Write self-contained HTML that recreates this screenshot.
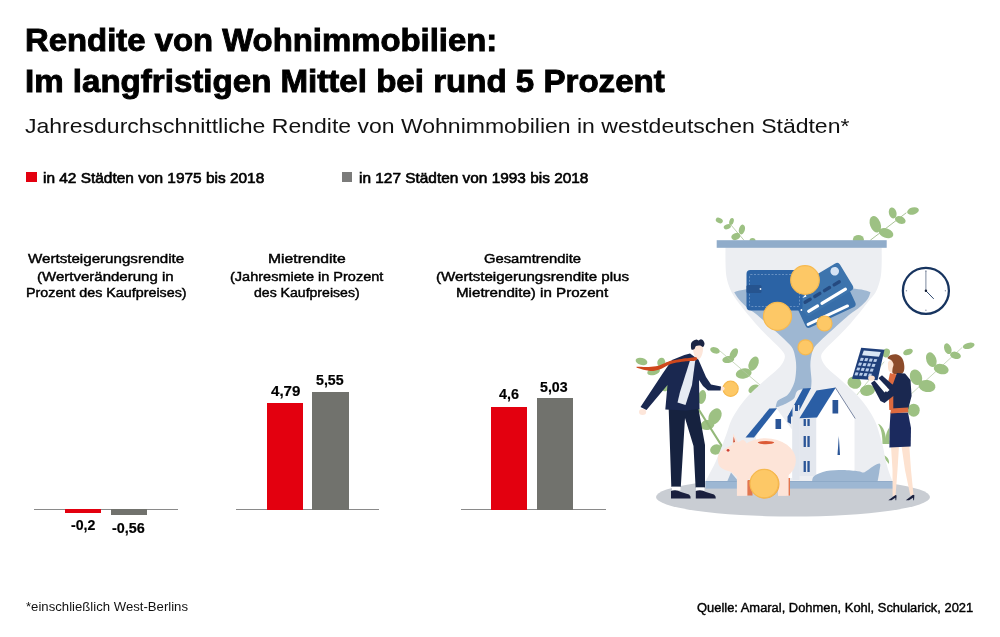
<!DOCTYPE html>
<html lang="de"><head><meta charset="utf-8"><title>Rendite von Wohnimmobilien</title>
<style>
html,body{margin:0;padding:0;background:#fff;}
body{width:1000px;height:637px;overflow:hidden;font-family:"Liberation Sans",sans-serif;}
#wrap{position:relative;width:1000px;height:637px;overflow:hidden;background:#fff;}
.t{position:absolute;white-space:pre;line-height:1;transform-origin:0 50%;display:block;}
.b{position:absolute;}
.red{background:#e3000f;}
.gry{background:#71726d;}
.ax{position:absolute;height:1px;background:#8a8a8a;}
#illu{position:absolute;left:620px;top:190px;}

</style></head>
<body>
<div id="wrap">
<div class="b red" style="left:26.4px;top:172.4px;width:10.4px;height:10px"></div>
<div class="b gry" style="left:341.6px;top:172.4px;width:10.2px;height:10px;background:#7b7b7a"></div>
<div class="ax" style="left:34px;top:509px;width:144px"></div>
<div class="ax" style="left:236px;top:509px;width:143px"></div>
<div class="ax" style="left:461px;top:509px;width:145px"></div>
<div class="b red" style="left:65px;top:509px;width:36.4px;height:4.2px"></div>
<div class="b gry" style="left:111px;top:509px;width:36px;height:6.4px"></div>
<div class="b red" style="left:267px;top:402.7px;width:36px;height:107px"></div>
<div class="b gry" style="left:312.4px;top:392.2px;width:36.2px;height:117.5px"></div>
<div class="b red" style="left:491.4px;top:406.5px;width:35.8px;height:103.2px"></div>
<div class="b gry" style="left:537.2px;top:398.4px;width:35.7px;height:111.3px"></div>

<svg id="illu" width="380" height="330" viewBox="620 190 380 330">
<ellipse cx="793" cy="497" rx="137" ry="19.5" fill="#c9cdd3"/>
<line x1="731" y1="225" x2="743.8" y2="240" stroke="#9dba88" stroke-width="0.7" stroke-linecap="round"/>
<ellipse cx="719.3" cy="220.5" rx="3.7" ry="2.5" transform="rotate(25 719.3 220.5)" fill="#9dc183"/>
<ellipse cx="731.5" cy="221.5" rx="2.2" ry="3.6" transform="rotate(15 731.5 221.5)" fill="#9dc183"/>
<ellipse cx="727.3" cy="226.8" rx="3.7" ry="2.4" transform="rotate(-20 727.3 226.8)" fill="#9dc183"/>
<ellipse cx="741.9" cy="229.5" rx="3" ry="5" transform="rotate(15 741.9 229.5)" fill="#9dc183"/>
<ellipse cx="735.8" cy="236.4" rx="4.6" ry="3.3" transform="rotate(-25 735.8 236.4)" fill="#9dc183"/>
<ellipse cx="752.5" cy="240.5" rx="3" ry="2.6" transform="rotate(0 752.5 240.5)" fill="#9dc183"/>
<line x1="870.6" y1="240" x2="906" y2="213" stroke="#94b47c" stroke-width="0.8" stroke-linecap="round"/>
<ellipse cx="875.3" cy="224.2" rx="5.3" ry="8.5" transform="rotate(-20 875.3 224.2)" fill="#9dc183"/>
<ellipse cx="886.1" cy="233.1" rx="7.5" ry="4.7" transform="rotate(20 886.1 233.1)" fill="#9dc183"/>
<ellipse cx="892.7" cy="212.9" rx="3.8" ry="5.6" transform="rotate(-15 892.7 212.9)" fill="#9dc183"/>
<ellipse cx="900.3" cy="220.0" rx="5.5" ry="3.6" transform="rotate(20 900.3 220.0)" fill="#9dc183"/>
<ellipse cx="913.0" cy="211.0" rx="6" ry="3.6" transform="rotate(-15 913.0 211.0)" fill="#9dc183"/>
<ellipse cx="858.4" cy="239.5" rx="5.5" ry="4.5" transform="rotate(0 858.4 239.5)" fill="#9dc183"/>
<ellipse cx="641.5" cy="361.4" rx="6" ry="3.5" transform="rotate(15 641.5 361.4)" fill="#9dc183"/>
<ellipse cx="661.3" cy="362.5" rx="4" ry="4.8" transform="rotate(10 661.3 362.5)" fill="#9dc183"/>
<ellipse cx="653.6" cy="371.5" rx="6.5" ry="3.5" transform="rotate(-15 653.6 371.5)" fill="#9dc183"/>
<ellipse cx="665.7" cy="385.0" rx="4.5" ry="6.5" transform="rotate(20 665.7 385.0)" fill="#9dc183"/>
<ellipse cx="715.0" cy="350.4" rx="5" ry="3" transform="rotate(20 715.0 350.4)" fill="#9dc183"/>
<ellipse cx="733.8" cy="353.7" rx="3.5" ry="6" transform="rotate(30 733.8 353.7)" fill="#9dc183"/>
<ellipse cx="728.3" cy="359.5" rx="6" ry="3.5" transform="rotate(-10 728.3 359.5)" fill="#9dc183"/>
<ellipse cx="753.6" cy="363.6" rx="4.6" ry="7.5" transform="rotate(25 753.6 363.6)" fill="#9dc183"/>
<ellipse cx="743.7" cy="373.5" rx="8" ry="5" transform="rotate(-10 743.7 373.5)" fill="#9dc183"/>
<ellipse cx="754.0" cy="389.0" rx="6" ry="4" transform="rotate(-30 754.0 389.0)" fill="#9dc183"/>
<ellipse cx="715.0" cy="416.3" rx="6" ry="8.5" transform="rotate(30 715.0 416.3)" fill="#9dc183"/>
<ellipse cx="707.4" cy="425.0" rx="7" ry="5" transform="rotate(-10 707.4 425.0)" fill="#9dc183"/>
<ellipse cx="716.0" cy="449.5" rx="6" ry="5" transform="rotate(-20 716.0 449.5)" fill="#9dc183"/>
<ellipse cx="702.0" cy="397.0" rx="4" ry="7" transform="rotate(10 702.0 397.0)" fill="#9dc183"/>
<line x1="720" y1="351" x2="760" y2="385" stroke="#b3c9a4" stroke-width="0.7" stroke-linecap="round"/>
<line x1="697.5" y1="407.6" x2="723.3" y2="448.4" stroke="#93b879" stroke-width="2.0" stroke-linecap="round"/>
<line x1="911.5" y1="393.7" x2="962" y2="347.6" stroke="#b3c9a4" stroke-width="0.7" stroke-linecap="round"/>
<line x1="856" y1="396" x2="884" y2="362" stroke="#b3c9a4" stroke-width="0.7" stroke-linecap="round"/>
<ellipse cx="968.7" cy="345.8" rx="6" ry="3" transform="rotate(-15 968.7 345.8)" fill="#9dc183"/>
<ellipse cx="947.8" cy="348.7" rx="3.5" ry="5.6" transform="rotate(-20 947.8 348.7)" fill="#9dc183"/>
<ellipse cx="955.5" cy="355.3" rx="5.5" ry="3.5" transform="rotate(15 955.5 355.3)" fill="#9dc183"/>
<ellipse cx="931.3" cy="359.7" rx="5" ry="7.6" transform="rotate(-20 931.3 359.7)" fill="#9dc183"/>
<ellipse cx="941.2" cy="369.1" rx="7.6" ry="5" transform="rotate(15 941.2 369.1)" fill="#9dc183"/>
<ellipse cx="916.0" cy="377.3" rx="6" ry="8" transform="rotate(-20 916.0 377.3)" fill="#9dc183"/>
<ellipse cx="927.0" cy="386.0" rx="8.5" ry="6" transform="rotate(10 927.0 386.0)" fill="#9dc183"/>
<ellipse cx="913.7" cy="410.2" rx="6" ry="6.5" transform="rotate(0 913.7 410.2)" fill="#9dc183"/>
<ellipse cx="908.0" cy="352.0" rx="5" ry="3" transform="rotate(-20 908.0 352.0)" fill="#9dc183"/>
<ellipse cx="886.3" cy="353.0" rx="3.5" ry="4.5" transform="rotate(20 886.3 353.0)" fill="#9dc183"/>
<ellipse cx="854.4" cy="382.7" rx="7" ry="6" transform="rotate(20 854.4 382.7)" fill="#9dc183"/>
<ellipse cx="867.6" cy="390.4" rx="7.5" ry="5.5" transform="rotate(-10 867.6 390.4)" fill="#9dc183"/>
<path d="M878,423.8 C884,426 886,434 886.5,444 L882.5,444 C882.5,436 881.5,429 878,423.8Z" fill="#9dc183"/>
<path d="M889.3,427.5 C886,432 885,438 886,444 L889.5,444Z" fill="#9dc183"/>
<path d="M882.3,455 C887,455.5 889.5,459.5 889,464 C886.5,461 884,458 882.3,455Z" fill="#9dc183"/>
<path d="M725.5,247.0C725.5,249.5 725.4,257.3 725.5,262.0C725.6,266.7 725.7,271.2 726.2,275.0C726.7,278.8 727.6,282.0 728.6,285.0C729.6,288.0 730.7,290.5 732.0,293.0C733.3,295.5 734.8,297.6 736.5,300.0C738.2,302.4 740.2,304.8 742.5,307.7C744.8,310.6 747.5,313.9 750.5,317.5C753.5,321.1 756.8,325.1 760.5,329.0C764.2,332.9 769.0,337.5 772.5,341.0C776.0,344.5 779.4,347.4 781.5,350.0C783.6,352.6 785.0,354.2 784.9,356.8C784.8,359.4 783.0,362.6 781.1,365.3C779.2,368.0 776.4,370.3 773.6,372.8C770.8,375.3 768.1,377.3 764.5,380.5C760.9,383.7 755.6,388.4 752.0,392.0C748.4,395.6 745.7,398.7 743.0,402.0C740.3,405.3 738.0,408.8 736.0,412.0C734.0,415.2 732.4,417.8 731.0,421.0C729.6,424.2 729.0,426.8 727.5,431.0C726.0,435.2 723.9,441.0 722.0,446.0C720.1,451.0 717.8,456.8 716.0,461.0C714.2,465.2 712.8,467.6 711.0,471.0C709.2,474.4 706.4,479.8 705.5,481.5 L892.5,481.5 C891.9,479.8 889.7,474.4 888.6,471.0C887.5,467.6 886.8,465.2 885.8,461.0C884.8,456.8 884.0,451.0 882.8,446.0C881.6,441.0 879.8,435.2 878.5,431.0C877.2,426.8 876.4,424.2 875.0,421.0C873.6,417.8 872.0,415.2 870.0,412.0C868.0,408.8 865.7,405.3 863.0,402.0C860.3,398.7 857.6,395.6 854.0,392.0C850.4,388.4 845.1,383.7 841.5,380.5C837.9,377.3 835.2,375.3 832.4,372.8C829.6,370.3 826.8,368.0 824.9,365.3C823.0,362.6 821.2,359.4 821.1,356.8C821.0,354.2 822.4,352.6 824.5,350.0C826.6,347.4 830.0,344.5 833.5,341.0C837.0,337.5 841.8,332.9 845.5,329.0C849.2,325.1 852.5,321.1 855.5,317.5C858.5,313.9 861.2,310.6 863.5,307.7C865.8,304.8 867.5,302.4 869.5,300.0C871.5,297.6 873.7,295.5 875.2,293.0C876.7,290.5 877.6,288.0 878.6,285.0C879.6,282.0 880.5,278.8 881.0,275.0C881.5,271.2 881.6,266.7 881.7,262.0C881.8,257.3 881.7,249.5 881.7,247.0 Z" fill="#eceef2"/>
<path d="M734.2,292.2C735.0,293.4 736.7,296.6 738.9,299.2C741.1,301.8 745.0,305.6 747.4,307.7C749.8,309.8 750.5,309.8 753.0,311.8C755.5,313.8 758.8,316.2 762.5,319.5C766.2,322.8 771.6,327.8 775.5,331.3C779.4,334.9 783.0,338.0 785.8,340.8C788.6,343.6 790.9,345.5 792.5,348.3C794.1,351.1 794.7,354.6 795.3,357.7C795.9,360.8 796.2,363.5 796.2,367.2C796.2,370.9 795.7,376.5 795.0,380.0C794.3,383.5 793.3,385.4 792.0,388.0C790.7,390.6 789.3,393.4 787.0,395.5C784.7,397.6 779.9,398.4 778.0,400.5C776.1,402.6 775.9,406.6 775.5,407.8 C777.2,407.1 782.6,405.2 785.7,403.7C788.8,402.2 791.9,400.8 793.9,398.6C795.9,396.4 795.1,392.1 798.0,390.4C800.9,388.7 808.8,388.7 811.0,388.4 C811.1,387.0 811.6,383.6 811.5,380.0C811.4,376.4 810.5,370.7 810.4,367.0C810.3,363.3 810.4,360.8 811.0,357.7C811.6,354.6 812.2,351.1 813.8,348.3C815.4,345.5 817.7,343.6 820.5,340.8C823.3,338.0 826.9,334.9 830.8,331.3C834.7,327.8 840.0,322.8 843.8,319.5C847.5,316.2 850.8,313.8 853.3,311.8C855.8,309.8 856.6,309.8 859.0,307.7C861.4,305.6 865.6,301.8 867.5,299.2C869.4,296.6 870.0,293.4 870.5,292.2 C862,288 840,287 803,287 C770,287 745,288 734.2,292.2Z" fill="#9eb7d2"/>
<g transform="translate(825.2 303) rotate(-25)"><rect x="-27.5" y="-15.8" width="55" height="31.6" rx="3.6" fill="#376ea9"/><rect x="-26" y="10.6" width="14" height="3" rx="1.5" fill="#fff"/><rect x="-9.5" y="10.6" width="30" height="3" rx="1.5" fill="#fff"/></g>
<g transform="translate(822.8 289.3) rotate(-31)"><rect x="-27.5" y="-15.8" width="55" height="31.6" rx="3.6" fill="#3d74ad"/><circle cx="19.5" cy="-9.3" r="4.3" fill="#d5e3f4"/><rect x="-23.5" y="0.3" width="9.2" height="3.4" rx="1.6" fill="#254a80"/><rect x="-12.2" y="0.3" width="9.2" height="3.4" rx="1.6" fill="#254a80"/><rect x="-0.8999999999999986" y="0.3" width="9.2" height="3.4" rx="1.6" fill="#254a80"/><rect x="10.400000000000006" y="0.3" width="9.2" height="3.4" rx="1.6" fill="#254a80"/><rect x="-25" y="10" width="13.5" height="3.1" rx="1.5" fill="#fff"/><rect x="-9.5" y="10" width="30.5" height="3.1" rx="1.5" fill="#fff"/></g>
<rect x="746.5" y="270" width="56" height="40.5" rx="4" fill="#2b63a5"/>
<rect x="749.5" y="274.5" width="50" height="32" rx="1" fill="none" stroke="#7fa3cf" stroke-width="0.7" stroke-dasharray="2 1.5"/>
<rect x="746.5" y="285" width="15" height="8" rx="1.5" fill="#26548f"/>
<circle cx="760.5" cy="289" r="0.9" fill="#e8eef6"/>
<circle cx="801.4" cy="310" r="0.9" fill="#fff"/>
<path d="M802.4,298 L805.5,294.5 L806.5,296.5Z" fill="#fff"/>
<circle cx="805" cy="280" r="14.3" fill="#fdc866" stroke="#f6b94f" stroke-width="1.2"/>
<circle cx="777.5" cy="316.3" r="14" fill="#fdc866" stroke="#f6b94f" stroke-width="1.2"/>
<circle cx="824.5" cy="323.5" r="7.5" fill="#fdc866" stroke="#f6b94f" stroke-width="1.2"/>
<circle cx="805.5" cy="347.3" r="7.5" fill="#fdc866" stroke="#f6b94f" stroke-width="1.2"/>
<circle cx="730.6" cy="388.8" r="7.6" fill="#fdc866" stroke="#f6b94f" stroke-width="1.2"/>
<path d="M769.4,408.8L776.5,408.4L792.0,429.5L792.0,478.0L756.0,478.0L756.0,437.0Z" fill="#ffffff"/>
<path d="M745.5,437.5L769.4,408.6L777.0,408.2L754.0,437.5Z" fill="#2a5ea5"/>
<rect x="775.5" y="419" width="5.6" height="10" fill="#2a5597"/>
<path d="M787.5,417.0L803.0,388.6L811.0,388.0L796.5,416.0Z" fill="#2a5ea5"/>
<path d="M787.5,417.0L791.0,411.0L791.0,424.0L787.5,422.0Z" fill="#2a5597"/>
<rect x="792.5" y="405" width="6.9" height="75" fill="#e3e7ee"/>
<rect x="795" y="404" width="3" height="7" fill="#2a5597"/>
<path d="M799.4,418.0L816.3,417.5L816.3,476.0L799.4,476.0Z" fill="#e3e7ee"/>
<path d="M816.3,417.5L835.5,388.0L854.5,418.0L854.5,476.0L816.3,476.0Z" fill="#ffffff"/>
<path d="M799.4,418.3L816.5,390.4L835.8,387.6L817.0,417.6Z" fill="#2a5ea5"/>
<line x1="835.6" y1="388" x2="855" y2="418.2" stroke="#2b3f6b" stroke-width="0.6" stroke-linecap="round"/>
<rect x="832.5" y="400" width="5.7" height="13.5" fill="#2a5597"/>
<path d="M837.5,455.0L838.8,436.0L840.0,455.0Z" fill="#2a5597"/>
<rect x="803.6" y="419" width="2.3" height="7" fill="#2a5597"/><rect x="807.4" y="419" width="2.3" height="7" fill="#2a5597"/>
<rect x="803.6" y="436" width="2.3" height="11" fill="#2a5597"/><rect x="807.4" y="436" width="2.3" height="11" fill="#2a5597"/>
<rect x="803.6" y="461" width="2.3" height="11" fill="#2a5597"/><rect x="807.4" y="461" width="2.3" height="11" fill="#2a5597"/>
<path d="M812.0,482.0C812.4,481.0 811.9,477.8 814.3,476.0C816.7,474.2 821.7,472.0 826.5,471.0C831.3,470.0 837.6,470.0 842.9,470.0C848.1,470.0 854.6,470.8 858.0,471.2C861.4,471.6 861.8,472.7 863.5,472.5C865.2,472.3 866.2,471.1 868.0,470.0C869.8,468.9 872.0,466.8 874.0,465.8C876.0,464.8 879.1,462.8 880.0,463.8C880.9,464.8 879.7,469.0 879.3,472.0C878.9,475.0 877.8,480.3 877.5,482.0Z" fill="#9eb7d2"/>
<path d="M727.0,482.0L731.0,472.5L739.0,482.0Z" fill="#9eb7d2"/>
<rect x="716.7" y="240.2" width="170" height="7.6" fill="#90acca"/>
<rect x="705.5" y="481.2" width="190.5" height="7.4" fill="#9db7d3"/>
<rect x="705.5" y="481" width="190.5" height="0.8" fill="#8ba7c6"/>
<rect x="746.5" y="480" width="6" height="15.5" fill="#e2764f"/><rect x="786" y="478" width="4" height="17.5" fill="#e2764f"/>
<path d="M736.9,470 L747.4,470 L747.4,495.9 L736.9,495.9Z" fill="#fde4d8"/><path d="M778,470 L788.6,470 L788.6,495.9 L778,495.9Z" fill="#fde4d8"/>
<ellipse cx="765.5" cy="460.6" rx="30.4" ry="22.4" fill="#fde4d8"/>
<path d="M745.0,441.0C742.5,438.2 739.7,442.1 737.0,443.0C734.3,443.9 731.5,445.2 729.0,446.5C726.5,447.8 723.8,449.1 722.0,450.5C720.2,451.9 719.0,453.2 718.3,455.0C717.6,456.8 717.8,459.2 718.0,461.0C718.2,462.8 718.5,464.6 719.5,466.0C720.5,467.4 722.1,468.5 724.0,469.5C725.9,470.5 728.8,470.8 731.0,472.0C733.2,473.2 734.2,475.7 737.0,477.0C739.8,478.3 745.5,482.8 748.0,480.0C750.5,477.2 752.5,466.5 752.0,460.0C751.5,453.5 747.5,443.8 745.0,441.0Z" fill="#fde4d8"/>
<path d="M733.3,433.5L738.5,443.5L732.0,446.5Z" fill="#fde4d8"/>
<path d="M733.7,436.5L735.0,442.0L733.2,442.5Z" fill="#c9472d"/>
<ellipse cx="766" cy="442.6" rx="8.2" ry="1.6" fill="#dc5a36"/>
<circle cx="728.1" cy="450.3" r="1.4" fill="#cf3f33" />
<circle cx="764.9" cy="484" r="14.6" fill="#eeaa45"/>
<circle cx="764.2" cy="483.6" r="14.2" fill="#fdc866" stroke="#f6b94f" stroke-width="1.2"/>
<path d="M668.7,409.0L698.5,409.0L705.0,445.0L705.0,487.5L695.6,487.5L693.5,446.0L685.0,418.0L680.8,486.8L671.3,486.8Z" fill="#16223f"/>
<rect x="672" y="486.8" width="8.5" height="3.6" fill="#fff"/><rect x="696" y="487.5" width="8.5" height="3.2" fill="#fff"/>
<path d="M671,498.4 L671,491 Q676,489 681,492 L689,494.5 Q691,496 690.6,498.4Z" fill="#1a1f3d"/>
<path d="M695.8,498.4 L695.8,491 Q701,489 706,492 L714,494.5 Q716,496 715.8,498.4Z" fill="#1a1f3d"/>
<ellipse cx="642.6" cy="412" rx="3.6" ry="3" fill="#fde6da"/>
<ellipse cx="722" cy="388.6" rx="2.6" ry="2.2" fill="#fde6da"/>
<path d="M693.0,347.0C692.7,348.8 693.3,351.8 694.0,354.0C694.7,356.2 695.8,359.5 697.0,360.0C698.2,360.5 700.0,358.7 701.0,357.0C702.0,355.3 702.8,352.2 703.0,350.0C703.2,347.8 703.2,345.2 702.0,344.0C700.8,342.8 697.5,342.5 696.0,343.0C694.5,343.5 693.3,345.2 693.0,347.0Z" fill="#fde6da"/>
<path d="M691.5,349.5C690.9,348.7 690.8,345.4 691.0,344.0C691.2,342.6 692.1,341.8 693.0,341.0C693.9,340.2 695.6,339.6 696.5,339.5C697.4,339.4 697.8,340.5 698.5,340.5C699.2,340.5 700.2,339.2 701.0,339.3C701.8,339.4 702.9,340.2 703.5,341.0C704.1,341.8 704.6,343.0 704.5,344.0C704.4,345.0 703.8,346.8 703.0,347.0C702.2,347.2 701.2,345.7 700.0,345.5C698.8,345.3 696.9,345.4 696.0,346.0C695.1,346.6 695.2,348.4 694.5,349.0C693.8,349.6 692.1,350.3 691.5,349.5Z" fill="#1b2544"/>
<path d="M684.4,355.0L690.0,353.5L698.5,359.7L706.0,377.0L711.0,384.5L721.0,386.5L720.5,390.5L708.0,390.5L703.0,386.0L699.0,380.0L699.5,409.0L686.0,410.5L665.3,409.5L667.5,385.0L646.5,410.0L640.5,407.0L663.0,373.0L672.0,360.0Z" fill="#1a2850"/>
<path d="M690.0,360.5L695.3,360.0L692.0,385.0L685.5,405.0L677.5,402.5L680.0,392.0Z" fill="#e6ebf4"/>
<path d="M696.5,357.4C695.4,357.0 691.5,357.8 689.0,358.0C686.5,358.2 684.4,358.5 681.5,358.9C678.6,359.3 674.4,359.9 671.6,360.6C668.8,361.3 667.2,362.2 664.6,363.2C662.0,364.1 659.1,365.7 656.0,366.3C652.9,366.9 649.5,366.9 646.2,367.0C642.9,367.1 637.2,366.6 636.3,366.9C635.4,367.2 639.4,368.4 641.0,369.0C642.6,369.6 644.2,370.0 646.2,370.3C648.2,370.6 650.9,371.2 653.3,371.0C655.6,370.8 657.9,370.2 660.3,369.3C662.6,368.4 665.0,366.6 667.4,365.5C669.8,364.4 671.7,363.7 674.5,363.0C677.3,362.3 680.9,361.9 684.4,361.5C687.9,361.1 693.5,361.3 695.5,360.6C697.5,359.9 697.6,357.8 696.5,357.4Z" fill="#cf471c"/>
<path d="M891.0,446.0L899.0,446.0L897.5,470.0L895.5,496.0L892.6,496.0L892.5,470.0Z" fill="#fde2d0"/>
<path d="M901.5,446.0L909.3,446.0L911.0,470.0L913.5,495.0L910.3,495.5L905.0,470.0Z" fill="#fde2d0"/>
<path d="M888.3,500.3 L895.5,495 L896.6,495.5 L896.2,500.3 L895.5,500.3 L895.3,497.8 L891.5,500.3Z" fill="#1a1f3d"/>
<path d="M905.8,500.3 L913,494.8 L914.4,495.3 L914,500.3 L913.3,500.3 L913,497.8 L909,500.3Z" fill="#1a1f3d"/>
<path d="M890.5,412.5L908.0,412.5L911.0,428.0L910.7,446.5L889.4,447.5L889.6,428.0Z" fill="#1b2a5e"/>
<path d="M889.0,361.0C887.5,362.0 888.0,364.3 888.0,366.0C888.0,367.7 888.2,369.8 889.0,371.0C889.8,372.2 891.7,372.8 893.0,373.0C894.3,373.2 896.3,374.2 897.0,372.0C897.7,369.8 898.3,361.8 897.0,360.0C895.7,358.2 890.5,360.0 889.0,361.0Z" fill="#fde2d0"/>
<path d="M887.5,358.0C887.5,357.2 889.4,355.6 891.0,355.0C892.6,354.4 895.2,354.0 897.0,354.5C898.8,355.0 900.8,356.2 902.0,358.0C903.2,359.8 904.0,362.7 904.2,365.0C904.5,367.3 904.4,370.4 903.5,372.0C902.6,373.6 900.8,374.2 899.0,374.5C897.2,374.8 894.1,374.4 893.0,373.5C891.9,372.6 892.4,370.6 892.5,369.0C892.6,367.4 893.8,365.5 893.5,364.0C893.2,362.5 892.0,361.0 891.0,360.0C890.0,359.0 887.5,358.8 887.5,358.0Z" fill="#8c4b2a"/>
<path d="M893.0,373.0L899.0,377.0L894.0,392.0L894.5,410.0L889.3,410.0L888.8,398.0L890.0,388.0Z" fill="#dd6a3f"/>
<path d="M890.0,373.0L897.0,375.0L894.0,388.0L889.5,400.0L886.0,392.0Z" fill="#dd6a3f"/>
<path d="M897.0,373.0L905.0,373.5L910.5,380.0L911.6,396.0L908.0,410.0L893.3,410.0L893.3,396.0L884.5,403.0L880.5,401.0L871.0,383.0L874.5,380.5L884.5,392.5L893.0,384.0Z" fill="#1a2850"/>
<path d="M890.8,408.6L908.0,407.6L908.3,412.2L890.6,413.6Z" fill="#dd6a3f"/>
<path d="M878.3,378.3L882.0,375.3L893.5,385.5L889.5,390.0Z" fill="#1a2850"/>
<path d="M876.3,380.6L878.3,378.3L889.5,390.0L887.0,392.3Z" fill="#fff"/>
<path d="M861.2,347.7L884.5,349.8L877.5,380.2L852.0,378.8Z" fill="#1f3f7a"/>
<g transform="translate(861.2 347.7) rotate(5) skewX(-15)"><rect x="3.5" y="2.5" width="17" height="5" fill="#d9e6f5"/><rect x="3.2" y="10" width="3" height="3" fill="#b9cdea"/><rect x="7.7" y="10" width="3" height="3" fill="#b9cdea"/><rect x="12.2" y="10" width="3" height="3" fill="#b9cdea"/><rect x="16.7" y="10" width="3" height="3" fill="#b9cdea"/><rect x="3.2" y="15" width="3" height="3" fill="#b9cdea"/><rect x="7.7" y="15" width="3" height="3" fill="#b9cdea"/><rect x="12.2" y="15" width="3" height="3" fill="#b9cdea"/><rect x="16.7" y="15" width="3" height="3" fill="#b9cdea"/><rect x="3.2" y="20" width="3" height="3" fill="#b9cdea"/><rect x="7.7" y="20" width="3" height="3" fill="#b9cdea"/><rect x="12.2" y="20" width="3" height="3" fill="#b9cdea"/><rect x="16.7" y="20" width="3" height="3" fill="#b9cdea"/><rect x="3.2" y="25" width="3" height="3" fill="#b9cdea"/><rect x="7.7" y="25" width="3" height="3" fill="#b9cdea"/><rect x="12.2" y="25" width="3" height="3" fill="#b9cdea"/><rect x="16.7" y="25" width="3" height="3" fill="#b9cdea"/></g>
<ellipse cx="871.5" cy="378" rx="3.4" ry="2.6" fill="#fde2d0"/>
<circle cx="925.9" cy="290.8" r="23" fill="#fff" stroke="#17345f" stroke-width="2.3"/>
<line x1="925.9" y1="290.8" x2="925.9" y2="271" stroke="#6c7a93" stroke-width="0.9" stroke-linecap="round"/>
<line x1="925.9" y1="290.8" x2="933.5" y2="298.6" stroke="#17345f" stroke-width="0.9" stroke-linecap="round"/>
<circle cx="925.9" cy="290.8" r="1.2" fill="#111c33" />
<circle cx="945.4" cy="290.8" r="0.7" fill="#8a93a6" />
<circle cx="925.9" cy="310.3" r="0.7" fill="#8a93a6" />
<circle cx="906.4" cy="290.8" r="0.7" fill="#8a93a6" />
<circle cx="925.9" cy="271.3" r="0.7" fill="#8a93a6" />
</svg>

<span class="t" style="left:25.2px;top:24.8px;font-size:31px;font-weight:700;color:#000;-webkit-text-stroke:0.9px #000;transform:scaleX(1.0601);">Rendite von Wohnimmobilien:</span>
<span class="t" style="left:25.2px;top:65.8px;font-size:31px;font-weight:700;color:#000;-webkit-text-stroke:0.9px #000;transform:scaleX(1.0674);">Im langfristigen Mittel bei rund 5 Prozent</span>
<span class="t" style="left:24.6px;top:115.1px;font-size:21px;font-weight:400;color:#111;transform:scaleX(1.0955);">Jahresdurchschnittliche Rendite von Wohnimmobilien in westdeutschen Städten*</span>
<span class="t" style="left:43.4px;top:170.7px;font-size:14.5px;font-weight:400;color:#000;-webkit-text-stroke:0.6px #000;transform:scaleX(1.0635);">in 42 Städten von 1975 bis 2018</span>
<span class="t" style="left:358.6px;top:170.7px;font-size:14.5px;font-weight:400;color:#000;-webkit-text-stroke:0.6px #000;transform:scaleX(1.0617);">in 127 Städten von 1993 bis 2018</span>
<span class="t" style="left:27.8px;top:251.7px;font-size:13.5px;font-weight:400;color:#000;-webkit-text-stroke:0.45px #000;transform:scaleX(1.1211);">Wertsteigerungsrendite</span>
<span class="t" style="left:37.0px;top:269.6px;font-size:13.5px;font-weight:400;color:#000;-webkit-text-stroke:0.45px #000;transform:scaleX(1.1125);">(Wertveränderung in</span>
<span class="t" style="left:26.0px;top:286.2px;font-size:13.5px;font-weight:400;color:#000;-webkit-text-stroke:0.45px #000;transform:scaleX(1.0596);">Prozent des Kaufpreises)</span>
<span class="t" style="left:268.0px;top:251.7px;font-size:13.5px;font-weight:400;color:#000;-webkit-text-stroke:0.45px #000;transform:scaleX(1.1622);">Mietrendite</span>
<span class="t" style="left:229.6px;top:269.6px;font-size:13.5px;font-weight:400;color:#000;-webkit-text-stroke:0.45px #000;transform:scaleX(1.0761);">(Jahresmiete in Prozent</span>
<span class="t" style="left:254.4px;top:286.2px;font-size:13.5px;font-weight:400;color:#000;-webkit-text-stroke:0.45px #000;transform:scaleX(1.0424);">des Kaufpreises)</span>
<span class="t" style="left:483.8px;top:251.7px;font-size:13.5px;font-weight:400;color:#000;-webkit-text-stroke:0.45px #000;transform:scaleX(1.0955);">Gesamtrendite</span>
<span class="t" style="left:435.8px;top:269.6px;font-size:13.5px;font-weight:400;color:#000;-webkit-text-stroke:0.45px #000;transform:scaleX(1.1199);">(Wertsteigerungsrendite plus</span>
<span class="t" style="left:456.2px;top:286.2px;font-size:13.5px;font-weight:400;color:#000;-webkit-text-stroke:0.45px #000;transform:scaleX(1.1207);">Mietrendite) in Prozent</span>
<span class="t" style="left:70.8px;top:517.5px;font-size:14.5px;font-weight:700;color:#000;-webkit-text-stroke:0.2px #000;transform:scaleX(0.9770);">-0,2</span>
<span class="t" style="left:112.2px;top:520.6px;font-size:14.5px;font-weight:700;color:#000;-webkit-text-stroke:0.2px #000;transform:scaleX(0.9926);">-0,56</span>
<span class="t" style="left:271.0px;top:384.1px;font-size:14.5px;font-weight:700;color:#000;-webkit-text-stroke:0.2px #000;transform:scaleX(1.0420);">4,79</span>
<span class="t" style="left:316.2px;top:373.0px;font-size:14.5px;font-weight:700;color:#000;-webkit-text-stroke:0.2px #000;transform:scaleX(0.9783);">5,55</span>
<span class="t" style="left:499.0px;top:387.2px;font-size:14.5px;font-weight:700;color:#000;-webkit-text-stroke:0.2px #000;transform:scaleX(0.9830);">4,6</span>
<span class="t" style="left:540.4px;top:379.7px;font-size:14.5px;font-weight:700;color:#000;-webkit-text-stroke:0.2px #000;transform:scaleX(0.9783);">5,03</span>
<span class="t" style="left:26.0px;top:601.4px;font-size:12.5px;font-weight:400;color:#111;transform:scaleX(1.0521);">*einschließlich West-Berlins</span>
<span class="t" style="left:696.6px;top:601.7px;font-size:12.5px;font-weight:400;color:#000;-webkit-text-stroke:0.4px #000;transform:scaleX(1.0325);">Quelle: Amaral, Dohmen, Kohl, Schularick, 2021</span>
</div>
</body></html>
